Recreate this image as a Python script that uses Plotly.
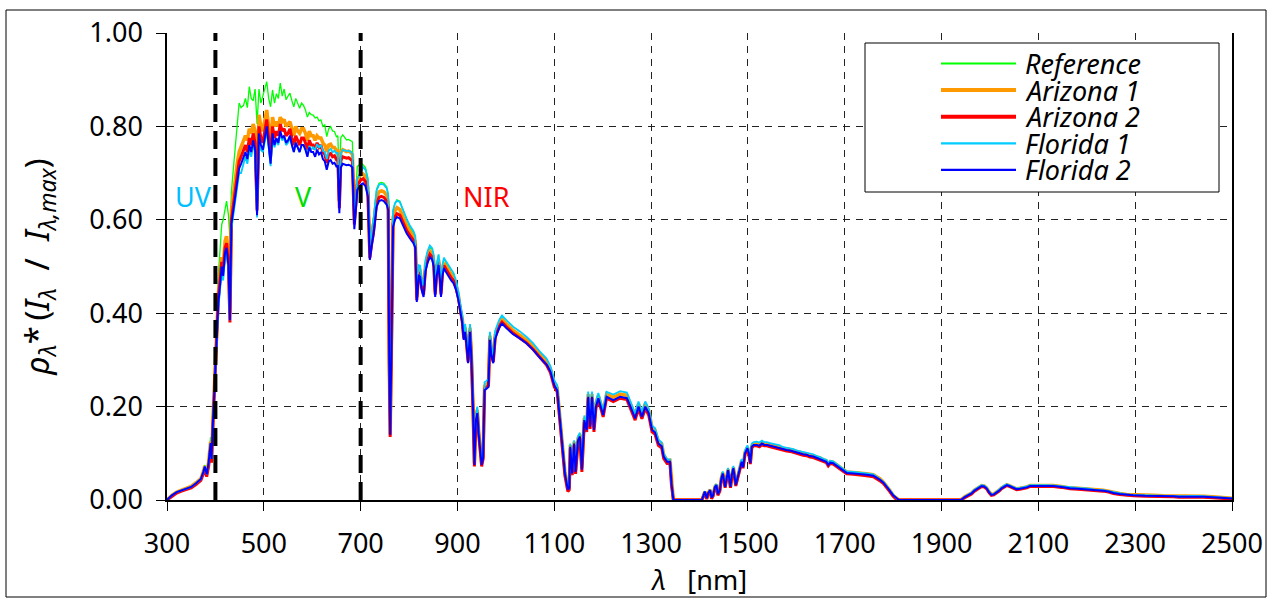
import plotly.graph_objects as go

# ---------------- data ----------------
wavelength_nm = [
    300, 310, 320, 330, 340, 350, 360, 370, 375, 378, 382, 386, 390, 392, 395, 398, 400,
    403, 406, 410, 413, 416, 420, 423, 427, 430, 433, 437, 441, 445, 449, 453, 458,
    462, 466, 470, 474, 478, 482, 486, 490, 494, 498, 502, 506, 510, 514, 518,
    522, 526, 530, 534, 538, 542, 546, 550, 554, 558, 562, 566, 570, 574, 578, 582, 586, 590, 594, 598,
    602, 606, 610, 614, 618, 622, 626, 630, 634, 638, 642, 646, 650, 653, 656, 659, 663, 667, 671, 675,
    679, 683, 687, 690, 693, 697, 700,
    705, 710, 715, 719, 723, 727, 733, 738, 743, 748, 754, 757, 759, 761, 764, 767, 771, 775, 781, 788,
    795, 802, 809, 813, 816, 820, 823, 826, 830, 834, 838, 843, 848, 851, 854, 857, 861, 864, 866, 869,
    872, 877, 882, 887, 892, 897, 902, 906, 910, 913, 916, 919, 922, 926, 929, 932, 935, 938, 941, 944,
    947, 950, 953, 956, 960, 964, 967, 970, 974, 978, 982, 987, 992, 997,
    1001, 1015, 1029, 1043, 1056, 1070, 1084, 1092, 1100, 1106, 1110, 1115, 1122, 1128, 1131, 1133, 1137,
    1141, 1144, 1149, 1153, 1157, 1162, 1167, 1170, 1174, 1178, 1182, 1186, 1191, 1197, 1201, 1208, 1222,
    1236, 1250, 1260, 1267, 1274, 1281, 1288, 1295, 1302, 1308, 1315, 1322, 1326, 1333, 1339, 1342, 1346,
    1380, 1405, 1411, 1415, 1418, 1422, 1425, 1428, 1432, 1435, 1438, 1442, 1445, 1448, 1453, 1456, 1459,
    1464, 1467, 1470, 1475, 1478, 1482, 1487, 1490, 1494, 1499, 1502, 1505, 1508, 1512, 1518, 1524, 1529,
    1534, 1539, 1546, 1553, 1560, 1566, 1573, 1580, 1587, 1594, 1604, 1614, 1621, 1628, 1635, 1642, 1649,
    1656, 1662, 1666, 1670, 1676, 1683, 1690, 1697, 1704, 1718, 1731, 1745, 1759, 1766, 1773, 1780, 1786,
    1793, 1800, 1806, 1812, 1880, 1940,
    1948, 1955, 1962, 1968, 1973, 1978, 1983, 1988, 1993, 1998, 2003, 2008, 2014, 2019, 2024, 2029, 2035,
    2040, 2045, 2050, 2055, 2062, 2069, 2076, 2083, 2093, 2103, 2117, 2131, 2148, 2165, 2182, 2200, 2217,
    2234, 2245, 2255, 2268, 2282, 2296, 2320, 2337, 2358, 2379, 2390, 2406, 2420, 2441, 2460, 2478, 2490, 2500,
]

reference = [
    0.000, 0.010, 0.017, 0.021, 0.025, 0.029, 0.037, 0.047, 0.062, 0.075, 0.058, 0.085, 0.135, 0.095, 0.180, 0.250, 0.320,
    0.400, 0.480, 0.550, 0.590, 0.600, 0.625, 0.640, 0.610, 0.560, 0.660, 0.710, 0.760, 0.800, 0.850, 0.840, 0.845,
    0.860, 0.840, 0.885, 0.860, 0.855, 0.880, 0.805, 0.880, 0.850, 0.865, 0.880, 0.896, 0.860, 0.842, 0.878,
    0.850, 0.870, 0.860, 0.893, 0.865, 0.880, 0.857, 0.865, 0.871, 0.855, 0.842, 0.860, 0.850, 0.839, 0.850, 0.845, 0.835, 0.820, 0.830, 0.825,
    0.824, 0.818, 0.820, 0.812, 0.814, 0.800, 0.803, 0.778, 0.795, 0.800, 0.790, 0.789, 0.778, 0.780, 0.660, 0.776, 0.782, 0.775, 0.771, 0.772,
    0.770, 0.767, 0.595, 0.650, 0.714, 0.718, 0.722,
    0.718, 0.712, 0.690, 0.550, 0.582, 0.608, 0.666, 0.678, 0.680, 0.678, 0.670, 0.655, 0.310, 0.145, 0.360, 0.620, 0.636, 0.643, 0.640, 0.620,
    0.600, 0.582, 0.572, 0.562, 0.444, 0.502, 0.500, 0.470, 0.455, 0.512, 0.529, 0.542, 0.536, 0.522, 0.455, 0.502, 0.525, 0.490, 0.455, 0.500,
    0.516, 0.507, 0.497, 0.488, 0.482, 0.465, 0.440, 0.412, 0.391, 0.355, 0.372, 0.342, 0.305, 0.372, 0.311, 0.208, 0.080, 0.180, 0.196, 0.148,
    0.106, 0.080, 0.096, 0.247, 0.250, 0.254, 0.355, 0.322, 0.305, 0.357, 0.369, 0.382, 0.390, 0.384,
    0.378, 0.363, 0.353, 0.341, 0.328, 0.311, 0.296, 0.281, 0.251, 0.241, 0.198, 0.148, 0.060, 0.024, 0.028, 0.118, 0.060,
    0.125, 0.063, 0.132, 0.140, 0.068, 0.176, 0.155, 0.226, 0.162, 0.226, 0.155, 0.205, 0.223, 0.202, 0.187, 0.226, 0.219,
    0.226, 0.223, 0.198, 0.180, 0.205, 0.183, 0.205, 0.191, 0.155, 0.150, 0.125, 0.119, 0.097, 0.085, 0.085, 0.037, 0.000,
    0.000, 0.000, 0.019, 0.004, 0.016, 0.022, 0.005, 0.011, 0.029, 0.033, 0.013, 0.022, 0.047, 0.060, 0.029, 0.052, 0.067,
    0.029, 0.057, 0.071, 0.033, 0.047, 0.063, 0.085, 0.073, 0.103, 0.114, 0.103, 0.082, 0.117, 0.121, 0.121, 0.119, 0.124,
    0.121, 0.121, 0.119, 0.117, 0.116, 0.114, 0.111, 0.110, 0.109, 0.107, 0.103, 0.101, 0.100, 0.097, 0.096, 0.093, 0.091,
    0.087, 0.085, 0.078, 0.083, 0.082, 0.077, 0.071, 0.067, 0.061, 0.060, 0.059, 0.057, 0.055, 0.050, 0.045, 0.039, 0.031,
    0.021, 0.010, 0.004, 0.000, 0.000, 0.000,
    0.007, 0.011, 0.015, 0.021, 0.025, 0.029, 0.031, 0.030, 0.026, 0.018, 0.012, 0.013, 0.017, 0.021, 0.026, 0.030, 0.033,
    0.031, 0.029, 0.026, 0.024, 0.025, 0.026, 0.028, 0.031, 0.031, 0.032, 0.031, 0.031, 0.029, 0.026, 0.025, 0.024, 0.022,
    0.021, 0.019, 0.016, 0.014, 0.012, 0.011, 0.010, 0.010, 0.009, 0.009, 0.008, 0.008, 0.009, 0.008, 0.007, 0.006, 0.005, 0.004,
]

arizona_1 = [
    0.000, 0.010, 0.017, 0.021, 0.025, 0.029, 0.037, 0.046, 0.061, 0.073, 0.056, 0.082, 0.125, 0.090, 0.175, 0.245, 0.310,
    0.365, 0.440, 0.485, 0.520, 0.500, 0.555, 0.565, 0.520, 0.400, 0.620, 0.650, 0.690, 0.720, 0.745, 0.755, 0.770,
    0.780, 0.770, 0.795, 0.785, 0.805, 0.790, 0.640, 0.825, 0.800, 0.790, 0.815, 0.835, 0.800, 0.760, 0.820,
    0.800, 0.810, 0.800, 0.820, 0.810, 0.815, 0.800, 0.805, 0.810, 0.795, 0.780, 0.800, 0.790, 0.785, 0.795, 0.795, 0.785, 0.770, 0.790, 0.780,
    0.780, 0.770, 0.780, 0.775, 0.775, 0.765, 0.760, 0.745, 0.760, 0.762, 0.755, 0.755, 0.748, 0.748, 0.640, 0.745, 0.750, 0.748, 0.746, 0.747,
    0.745, 0.740, 0.600, 0.640, 0.685, 0.692, 0.697,
    0.698, 0.692, 0.670, 0.530, 0.562, 0.588, 0.648, 0.660, 0.662, 0.660, 0.652, 0.638, 0.305, 0.140, 0.355, 0.605, 0.620, 0.626, 0.622, 0.604,
    0.588, 0.575, 0.564, 0.553, 0.435, 0.493, 0.491, 0.462, 0.447, 0.503, 0.520, 0.533, 0.527, 0.512, 0.446, 0.492, 0.515, 0.482, 0.446, 0.492,
    0.508, 0.499, 0.490, 0.481, 0.475, 0.460, 0.437, 0.409, 0.388, 0.352, 0.369, 0.339, 0.301, 0.369, 0.307, 0.205, 0.078, 0.176, 0.193, 0.145,
    0.104, 0.078, 0.094, 0.244, 0.247, 0.251, 0.352, 0.319, 0.302, 0.354, 0.366, 0.379, 0.387, 0.381,
    0.377, 0.363, 0.353, 0.342, 0.329, 0.311, 0.296, 0.281, 0.250, 0.240, 0.198, 0.147, 0.060, 0.024, 0.028, 0.118, 0.060,
    0.125, 0.063, 0.132, 0.140, 0.068, 0.176, 0.155, 0.227, 0.162, 0.227, 0.155, 0.206, 0.224, 0.203, 0.188, 0.227, 0.220,
    0.227, 0.224, 0.199, 0.181, 0.206, 0.184, 0.206, 0.192, 0.155, 0.150, 0.126, 0.120, 0.097, 0.085, 0.085, 0.038, 0.000,
    0.000, 0.000, 0.018, 0.004, 0.015, 0.022, 0.005, 0.010, 0.029, 0.033, 0.012, 0.022, 0.046, 0.059, 0.029, 0.052, 0.066,
    0.029, 0.057, 0.070, 0.033, 0.046, 0.062, 0.084, 0.072, 0.102, 0.113, 0.102, 0.081, 0.116, 0.120, 0.120, 0.118, 0.123,
    0.120, 0.120, 0.118, 0.116, 0.115, 0.113, 0.110, 0.109, 0.108, 0.106, 0.102, 0.100, 0.099, 0.096, 0.095, 0.092, 0.090,
    0.086, 0.084, 0.077, 0.082, 0.081, 0.076, 0.070, 0.066, 0.060, 0.059, 0.058, 0.056, 0.054, 0.050, 0.045, 0.038, 0.031,
    0.021, 0.010, 0.004, 0.000, 0.000, 0.000,
    0.007, 0.011, 0.015, 0.021, 0.025, 0.029, 0.031, 0.030, 0.026, 0.018, 0.012, 0.013, 0.017, 0.021, 0.026, 0.030, 0.033,
    0.031, 0.029, 0.026, 0.024, 0.025, 0.026, 0.028, 0.031, 0.031, 0.032, 0.031, 0.031, 0.029, 0.026, 0.025, 0.024, 0.022,
    0.021, 0.019, 0.016, 0.014, 0.012, 0.011, 0.010, 0.010, 0.009, 0.009, 0.008, 0.008, 0.009, 0.008, 0.007, 0.006, 0.005, 0.004,
]

arizona_2 = [
    0.000, 0.008, 0.015, 0.019, 0.022, 0.026, 0.033, 0.042, 0.056, 0.066, 0.050, 0.072, 0.110, 0.080, 0.160, 0.235, 0.300,
    0.355, 0.430, 0.475, 0.510, 0.490, 0.540, 0.550, 0.505, 0.380, 0.600, 0.630, 0.665, 0.695, 0.725, 0.735, 0.750,
    0.760, 0.745, 0.775, 0.760, 0.785, 0.765, 0.620, 0.800, 0.775, 0.765, 0.790, 0.815, 0.775, 0.735, 0.800,
    0.775, 0.790, 0.780, 0.805, 0.790, 0.795, 0.780, 0.785, 0.795, 0.775, 0.760, 0.780, 0.770, 0.760, 0.775, 0.775, 0.765, 0.750, 0.770, 0.760,
    0.760, 0.750, 0.765, 0.755, 0.760, 0.745, 0.740, 0.722, 0.740, 0.742, 0.735, 0.737, 0.729, 0.730, 0.625, 0.727, 0.735, 0.733, 0.732, 0.733,
    0.730, 0.726, 0.590, 0.630, 0.675, 0.680, 0.685,
    0.688, 0.682, 0.658, 0.518, 0.550, 0.577, 0.636, 0.648, 0.650, 0.648, 0.640, 0.627, 0.300, 0.135, 0.350, 0.592, 0.607, 0.613, 0.610, 0.592,
    0.577, 0.566, 0.556, 0.546, 0.428, 0.486, 0.484, 0.455, 0.440, 0.496, 0.513, 0.526, 0.520, 0.506, 0.440, 0.486, 0.509, 0.475, 0.440, 0.486,
    0.502, 0.493, 0.484, 0.476, 0.470, 0.455, 0.432, 0.403, 0.382, 0.346, 0.363, 0.333, 0.296, 0.363, 0.302, 0.200, 0.072, 0.172, 0.188, 0.140,
    0.098, 0.072, 0.088, 0.238, 0.241, 0.245, 0.346, 0.313, 0.296, 0.348, 0.360, 0.373, 0.381, 0.375,
    0.371, 0.357, 0.347, 0.336, 0.323, 0.305, 0.289, 0.273, 0.242, 0.232, 0.188, 0.138, 0.052, 0.018, 0.022, 0.110, 0.053,
    0.117, 0.056, 0.124, 0.132, 0.060, 0.167, 0.146, 0.218, 0.152, 0.218, 0.146, 0.196, 0.215, 0.193, 0.178, 0.218, 0.211,
    0.218, 0.215, 0.189, 0.171, 0.196, 0.174, 0.196, 0.182, 0.146, 0.141, 0.117, 0.111, 0.089, 0.078, 0.078, 0.033, 0.000,
    0.000, 0.000, 0.016, 0.002, 0.013, 0.019, 0.003, 0.008, 0.026, 0.030, 0.010, 0.019, 0.043, 0.055, 0.026, 0.048, 0.062,
    0.026, 0.053, 0.066, 0.030, 0.043, 0.058, 0.080, 0.068, 0.098, 0.109, 0.098, 0.077, 0.112, 0.116, 0.116, 0.114, 0.119,
    0.116, 0.116, 0.114, 0.112, 0.111, 0.109, 0.106, 0.105, 0.104, 0.102, 0.098, 0.096, 0.095, 0.092, 0.091, 0.088, 0.086,
    0.082, 0.080, 0.073, 0.078, 0.077, 0.072, 0.066, 0.062, 0.056, 0.055, 0.054, 0.052, 0.050, 0.046, 0.041, 0.035, 0.028,
    0.018, 0.008, 0.002, 0.000, 0.000, 0.000,
    0.005, 0.009, 0.013, 0.019, 0.023, 0.027, 0.029, 0.028, 0.024, 0.016, 0.010, 0.011, 0.015, 0.019, 0.024, 0.028, 0.031,
    0.029, 0.027, 0.024, 0.022, 0.023, 0.024, 0.026, 0.029, 0.029, 0.030, 0.029, 0.029, 0.027, 0.024, 0.023, 0.022, 0.020,
    0.019, 0.017, 0.014, 0.012, 0.010, 0.009, 0.008, 0.008, 0.007, 0.007, 0.006, 0.006, 0.007, 0.006, 0.005, 0.004, 0.003, 0.002,
]

florida_1 = [
    0.000, 0.010, 0.017, 0.021, 0.024, 0.028, 0.036, 0.045, 0.060, 0.072, 0.055, 0.080, 0.120, 0.088, 0.170, 0.240, 0.300,
    0.345, 0.410, 0.455, 0.490, 0.470, 0.520, 0.530, 0.495, 0.385, 0.580, 0.610, 0.640, 0.670, 0.700, 0.700, 0.720,
    0.735, 0.720, 0.750, 0.735, 0.760, 0.745, 0.605, 0.775, 0.750, 0.745, 0.765, 0.790, 0.755, 0.715, 0.775,
    0.755, 0.770, 0.760, 0.785, 0.770, 0.775, 0.760, 0.765, 0.775, 0.760, 0.745, 0.765, 0.755, 0.745, 0.760, 0.760, 0.752, 0.740, 0.758, 0.750,
    0.755, 0.750, 0.762, 0.755, 0.760, 0.748, 0.745, 0.730, 0.748, 0.752, 0.745, 0.748, 0.742, 0.744, 0.640, 0.742, 0.750, 0.748, 0.747, 0.748,
    0.746, 0.742, 0.600, 0.642, 0.688, 0.695, 0.700,
    0.713, 0.707, 0.685, 0.545, 0.578, 0.604, 0.663, 0.675, 0.677, 0.675, 0.667, 0.652, 0.310, 0.145, 0.362, 0.620, 0.635, 0.641, 0.638, 0.619,
    0.602, 0.587, 0.576, 0.565, 0.445, 0.503, 0.502, 0.472, 0.458, 0.514, 0.532, 0.545, 0.539, 0.524, 0.456, 0.503, 0.526, 0.492, 0.456, 0.503,
    0.519, 0.510, 0.501, 0.492, 0.486, 0.470, 0.446, 0.418, 0.396, 0.360, 0.377, 0.346, 0.308, 0.377, 0.315, 0.212, 0.082, 0.182, 0.200, 0.150,
    0.108, 0.082, 0.098, 0.252, 0.255, 0.259, 0.360, 0.327, 0.310, 0.362, 0.374, 0.387, 0.395, 0.389,
    0.385, 0.371, 0.361, 0.349, 0.336, 0.318, 0.303, 0.287, 0.256, 0.246, 0.203, 0.152, 0.063, 0.026, 0.030, 0.121, 0.062,
    0.128, 0.065, 0.136, 0.144, 0.070, 0.181, 0.159, 0.232, 0.166, 0.232, 0.158, 0.210, 0.229, 0.207, 0.192, 0.232, 0.226,
    0.233, 0.230, 0.204, 0.185, 0.211, 0.188, 0.211, 0.196, 0.159, 0.154, 0.129, 0.123, 0.099, 0.087, 0.087, 0.038, 0.000,
    0.000, 0.000, 0.019, 0.004, 0.016, 0.022, 0.005, 0.011, 0.030, 0.034, 0.013, 0.022, 0.048, 0.061, 0.030, 0.054, 0.069,
    0.030, 0.059, 0.073, 0.034, 0.048, 0.065, 0.088, 0.075, 0.106, 0.117, 0.106, 0.084, 0.121, 0.124, 0.125, 0.123, 0.127,
    0.124, 0.124, 0.122, 0.120, 0.119, 0.117, 0.113, 0.112, 0.111, 0.109, 0.105, 0.103, 0.102, 0.099, 0.098, 0.094, 0.092,
    0.088, 0.086, 0.079, 0.084, 0.083, 0.077, 0.071, 0.067, 0.061, 0.060, 0.059, 0.057, 0.055, 0.050, 0.045, 0.039, 0.031,
    0.021, 0.010, 0.004, 0.000, 0.000, 0.000,
    0.007, 0.011, 0.016, 0.022, 0.026, 0.030, 0.032, 0.031, 0.027, 0.019, 0.012, 0.013, 0.018, 0.022, 0.027, 0.031, 0.034,
    0.032, 0.030, 0.027, 0.025, 0.026, 0.027, 0.029, 0.032, 0.032, 0.033, 0.032, 0.031, 0.029, 0.027, 0.026, 0.025, 0.022,
    0.021, 0.019, 0.016, 0.014, 0.012, 0.011, 0.010, 0.010, 0.009, 0.009, 0.008, 0.008, 0.009, 0.008, 0.007, 0.006, 0.005, 0.004,
]

florida_2 = [
    0.000, 0.010, 0.017, 0.021, 0.024, 0.028, 0.036, 0.045, 0.060, 0.072, 0.055, 0.080, 0.122, 0.088, 0.170, 0.240, 0.300,
    0.350, 0.420, 0.465, 0.500, 0.480, 0.530, 0.540, 0.500, 0.385, 0.590, 0.620, 0.650, 0.680, 0.710, 0.720, 0.735,
    0.745, 0.730, 0.760, 0.745, 0.770, 0.750, 0.610, 0.785, 0.760, 0.750, 0.775, 0.800, 0.760, 0.720, 0.785,
    0.760, 0.775, 0.765, 0.790, 0.775, 0.780, 0.765, 0.770, 0.780, 0.760, 0.745, 0.765, 0.755, 0.745, 0.760, 0.760, 0.750, 0.735, 0.755, 0.745,
    0.745, 0.735, 0.750, 0.740, 0.745, 0.730, 0.725, 0.707, 0.725, 0.728, 0.720, 0.722, 0.714, 0.715, 0.614, 0.712, 0.720, 0.718, 0.717, 0.718,
    0.716, 0.712, 0.580, 0.620, 0.664, 0.670, 0.675,
    0.678, 0.672, 0.650, 0.514, 0.545, 0.570, 0.628, 0.640, 0.642, 0.640, 0.632, 0.620, 0.300, 0.140, 0.350, 0.585, 0.600, 0.606, 0.603, 0.585,
    0.571, 0.560, 0.550, 0.540, 0.424, 0.480, 0.478, 0.450, 0.435, 0.490, 0.507, 0.520, 0.514, 0.500, 0.435, 0.480, 0.503, 0.470, 0.435, 0.480,
    0.496, 0.487, 0.478, 0.470, 0.464, 0.450, 0.428, 0.400, 0.379, 0.343, 0.360, 0.330, 0.293, 0.360, 0.300, 0.200, 0.075, 0.170, 0.186, 0.140,
    0.100, 0.075, 0.090, 0.235, 0.238, 0.242, 0.343, 0.310, 0.293, 0.345, 0.357, 0.370, 0.378, 0.372,
    0.368, 0.355, 0.346, 0.335, 0.322, 0.305, 0.290, 0.275, 0.245, 0.235, 0.193, 0.143, 0.057, 0.022, 0.026, 0.114, 0.057,
    0.121, 0.060, 0.128, 0.136, 0.065, 0.171, 0.150, 0.221, 0.157, 0.221, 0.150, 0.200, 0.218, 0.197, 0.182, 0.221, 0.214,
    0.221, 0.218, 0.193, 0.175, 0.200, 0.178, 0.200, 0.186, 0.150, 0.145, 0.121, 0.115, 0.093, 0.082, 0.082, 0.036, 0.000,
    0.000, 0.000, 0.018, 0.004, 0.015, 0.021, 0.005, 0.010, 0.028, 0.032, 0.012, 0.021, 0.045, 0.057, 0.028, 0.050, 0.064,
    0.028, 0.055, 0.068, 0.032, 0.045, 0.060, 0.082, 0.070, 0.100, 0.111, 0.100, 0.079, 0.114, 0.118, 0.118, 0.116, 0.121,
    0.118, 0.118, 0.116, 0.114, 0.113, 0.111, 0.108, 0.107, 0.106, 0.104, 0.100, 0.098, 0.097, 0.094, 0.093, 0.090, 0.088,
    0.084, 0.082, 0.075, 0.080, 0.079, 0.074, 0.068, 0.064, 0.058, 0.057, 0.056, 0.054, 0.052, 0.048, 0.043, 0.037, 0.030,
    0.020, 0.010, 0.004, 0.000, 0.000, 0.000,
    0.006, 0.010, 0.014, 0.020, 0.024, 0.028, 0.030, 0.029, 0.025, 0.017, 0.011, 0.012, 0.016, 0.020, 0.025, 0.029, 0.032,
    0.030, 0.028, 0.025, 0.023, 0.024, 0.025, 0.027, 0.030, 0.030, 0.031, 0.030, 0.030, 0.028, 0.025, 0.024, 0.023, 0.021,
    0.020, 0.018, 0.015, 0.013, 0.011, 0.010, 0.009, 0.009, 0.008, 0.008, 0.007, 0.007, 0.008, 0.007, 0.006, 0.005, 0.004, 0.003,
]

series_names = ["Reference", "Arizona 1", "Arizona 2", "Florida 1", "Florida 2"]
band_edges_nm = [400, 700]
band_labels = ["UV", "V", "NIR"]
band_label_x_nm = [354, 581, 961]
band_label_y = 0.649
x_ticks = list(range(300, 2501, 200))
y_ticks = [0.0, 0.2, 0.4, 0.6, 0.8, 1.0]

# ---------------- style ----------------
colors = ["#00ff00", "#ff9900", "#ff0000", "#00ccff", "#0000ff"]
widths = [1.3, 3.5, 3.0, 1.8, 2.0]
legend_widths = [1.8, 4.0, 4.0, 2.2, 2.2]
band_colors = ["#00bfff", "#00dd00", "#ff0000"]
FONT = "Noto Sans"
TICK_SIZE = 27

all_series = [reference, arizona_1, arizona_2, florida_1, florida_2]
for s, n in zip(all_series, series_names):
    if len(s) != len(wavelength_nm):
        raise ValueError(f"{n}: {len(s)} vs {len(wavelength_nm)}")

fig = go.Figure()
for name, vals, c, w in zip(series_names, all_series, colors, widths):
    fig.add_trace(go.Scatter(x=wavelength_nm, y=vals, mode="lines", name=name,
                             line=dict(color=c, width=w), showlegend=False))

W, H = 1272, 601
L, R, T, B = 167, 40, 33, 101
pw, ph = W - L - R, H - T - B


def px_x(px):
    return (px - L) / pw


def px_y(py):
    return (H - B - py) / ph


shapes = []
# outer frame
shapes.append(dict(type="rect", xref="paper", yref="paper", x0=px_x(6), x1=px_x(1266),
                   y0=px_y(597), y1=px_y(10), line=dict(color="black", width=1), layer="below"))
# band separators
for xe in band_edges_nm:
    shapes.append(dict(type="line", xref="x", yref="paper", x0=xe, x1=xe, y0=0, y1=1,
                       line=dict(color="black", width=4, dash="18px,9px"), layer="above"))
# legend box
shapes.append(dict(type="rect", xref="paper", yref="paper", x0=px_x(865), x1=px_x(1219),
                   y0=px_y(192), y1=px_y(43), line=dict(color="black", width=1),
                   fillcolor="white", layer="above"))

annotations = []
for lab, xx, cc in zip(band_labels, band_label_x_nm, band_colors):
    annotations.append(dict(x=xx, y=band_label_y, xref="x", yref="y", text=lab, showarrow=False,
                            font=dict(family=FONT, size=27, color=cc)))

row0, step = 63.5, 26.6
for i, (name, c, lw) in enumerate(zip(series_names, colors, legend_widths)):
    yy = px_y(row0 + i * step)
    shapes.append(dict(type="line", xref="paper", yref="paper", x0=px_x(941), x1=px_x(1016),
                       y0=yy, y1=yy, line=dict(color=c, width=lw), layer="above"))
    annotations.append(dict(x=px_x(1023), y=yy, xref="paper", yref="paper", xanchor="left",
                            yanchor="middle", text=f"<i>{name}</i>", showarrow=False,
                            font=dict(family=FONT, size=27, color="black")))

grid = dict(showgrid=True, gridcolor="#222222", gridwidth=1, griddash="7px,6px")

ytitle = ("<i>ρ<sub>λ</sub></i>*\u2009(<i>I<sub>λ</sub></i>\u00a0\u00a0/\u00a0\u00a0"
          "<i>I<sub>λ,max</sub></i>)")

fig.update_layout(
    width=W, height=H, margin=dict(l=L, r=R, t=T, b=B, autoexpand=False),
    paper_bgcolor="white", plot_bgcolor="white",
    font=dict(family=FONT, size=TICK_SIZE, color="black"),
    xaxis=dict(range=[300, 2500], tickvals=x_ticks, ticks="outside", ticklen=9, tickwidth=1,
               tickcolor="black", showline=True, linecolor="black", linewidth=1.5,
               tickfont=dict(family=FONT, size=TICK_SIZE), zeroline=False,
               ticklabelstandoff=10,
               title=dict(text="<i>λ</i>\u00a0\u00a0\u00a0[nm]", standoff=10,
                          font=dict(family=FONT, size=27)), **grid),
    yaxis=dict(range=[0, 1], tickvals=y_ticks, tickformat=".2f", ticks="outside", ticklen=9,
               tickwidth=1, tickcolor="black", showline=True, mirror=True, linecolor="black",
               linewidth=1.5, tickfont=dict(family=FONT, size=TICK_SIZE), zeroline=False,
               ticklabelstandoff=8,
               title=dict(text=ytitle, standoff=30, font=dict(family=FONT, size=33)), **grid),
    shapes=shapes, annotations=annotations, showlegend=False,
)

fig.write_html("out.html", config={"displayModeBar": False},
               post_script="document.body.style.margin='0px';")
